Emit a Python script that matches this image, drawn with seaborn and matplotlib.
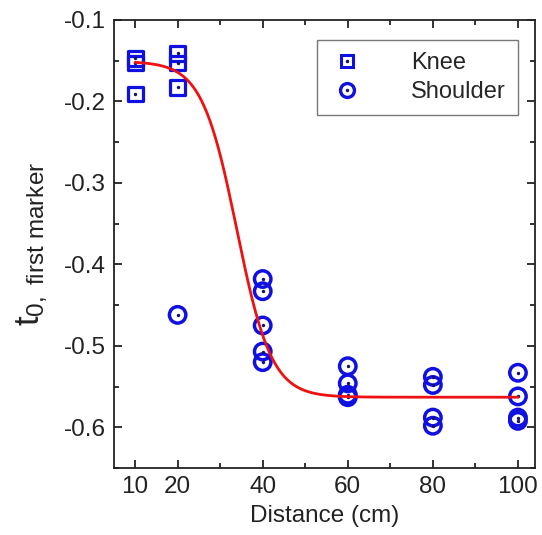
import numpy as np
import pandas as pd
import matplotlib
matplotlib.use("Agg")
import matplotlib.pyplot as plt
import seaborn as sns
from matplotlib.ticker import MultipleLocator, FixedLocator
from matplotlib.lines import Line2D
from matplotlib.legend_handler import HandlerTuple

# ---- data ----
knee_x = [10, 10, 10, 20, 20, 20]
knee_y = [-0.147, -0.153, -0.191, -0.141, -0.153, -0.183]

shoulder_x = [20, 40, 40, 40, 40, 40, 60, 60, 60, 60, 80, 80, 80, 80, 100, 100, 100, 100]
shoulder_y = [-0.462, -0.418, -0.433, -0.475, -0.507, -0.520,
              -0.525, -0.546, -0.560, -0.563,
              -0.538, -0.548, -0.588, -0.598,
              -0.533, -0.562, -0.588, -0.592]

# Boltzmann fit parameters (red curve)
fit_A1 = -0.151
fit_A2 = -0.563
fit_x0 = 33.9
fit_dx = 4.1
fit_range = [10, 100]

xticks_major = [10, 20, 40, 60, 80, 100]
xticks_minor = [30, 50, 70, 90]

sns.set_theme(style="ticks")
plt.rcParams['font.family'] = ['Liberation Sans', 'DejaVu Sans']
plt.rcParams['mathtext.fontset'] = 'custom'
plt.rcParams['mathtext.rm'] = 'Liberation Sans'
plt.rcParams['mathtext.it'] = 'Liberation Sans'

fig = plt.figure(figsize=(5.42, 5.35), dpi=100)
ax = fig.add_axes([0.210, 0.125, 0.777, 0.838])

blue = '#1010e0'
dot = '#101070'
fit_x = np.linspace(fit_range[0], fit_range[1], 400)
fit_y = fit_A2 + (fit_A1 - fit_A2) / (1 + np.exp((fit_x - fit_x0) / fit_dx))
sns.lineplot(x=fit_x, y=fit_y, ax=ax, color='#ee1111', lw=2, zorder=3)

kdf = pd.DataFrame({'x': knee_x, 'y': knee_y})
sdf = pd.DataFrame({'x': shoulder_x, 'y': shoulder_y})
sns.scatterplot(data=kdf, x='x', y='y', ax=ax, marker='s', s=115,
                facecolor='none', edgecolor=blue, linewidth=2.3, zorder=2)
sns.scatterplot(data=sdf, x='x', y='y', ax=ax, marker='o', s=140,
                facecolor='none', edgecolor=blue, linewidth=2.5, zorder=2)
sns.scatterplot(data=pd.concat([kdf, sdf]), x='x', y='y', ax=ax, marker='o', s=6,
                color=dot, linewidth=0, zorder=2)

ax.set_xlim(5, 104)
ax.set_ylim(-0.65, -0.1)
ax.xaxis.set_major_locator(FixedLocator(xticks_major))
ax.xaxis.set_minor_locator(FixedLocator(xticks_minor))
ax.yaxis.set_major_locator(MultipleLocator(0.1))
ax.yaxis.set_minor_locator(MultipleLocator(0.05))
ax.set_yticklabels([f"{v:.1f}" for v in ax.get_yticks()])
ax.tick_params(which='both', direction='in', top=True, right=True, color='#222222')
ax.tick_params(which='major', length=6, width=1.3, labelsize=17.5, colors='#222222', pad=6)
ax.tick_params(which='minor', length=3.5, width=1.3)
for sp in ax.spines.values():
    sp.set_linewidth(1.3)
    sp.set_color('#222222')

ax.set_xlabel('Distance (cm)', fontsize=17.5, color='#222222', labelpad=5)
ax.set_ylabel(r'$\mathregular{t_{0,\ first\ marker}}$', fontsize=25, color='#222222', labelpad=10)

h_knee = (Line2D([], [], ls='none', marker='s', ms=9, mfc='none', mec=blue, mew=2.2),
          Line2D([], [], ls='none', marker='o', ms=2.5, mfc=dot, mec='none'))
h_sh = (Line2D([], [], ls='none', marker='o', ms=10, mfc='none', mec=blue, mew=2.4),
        Line2D([], [], ls='none', marker='o', ms=2.5, mfc=dot, mec='none'))
leg = ax.legend([h_knee, h_sh], ['Knee', 'Shoulder'],
                handler_map={tuple: HandlerTuple(ndivide=1)},
                loc='upper right', bbox_to_anchor=(0.97, 0.965), fontsize=17, frameon=True,
                fancybox=False, edgecolor='#555555', handlelength=1.6, handletextpad=1.9,
                borderpad=0.5, labelspacing=0.3, borderaxespad=0.2)
leg.get_frame().set_linewidth(1.0)

fig.savefig('out.png', dpi=100)
